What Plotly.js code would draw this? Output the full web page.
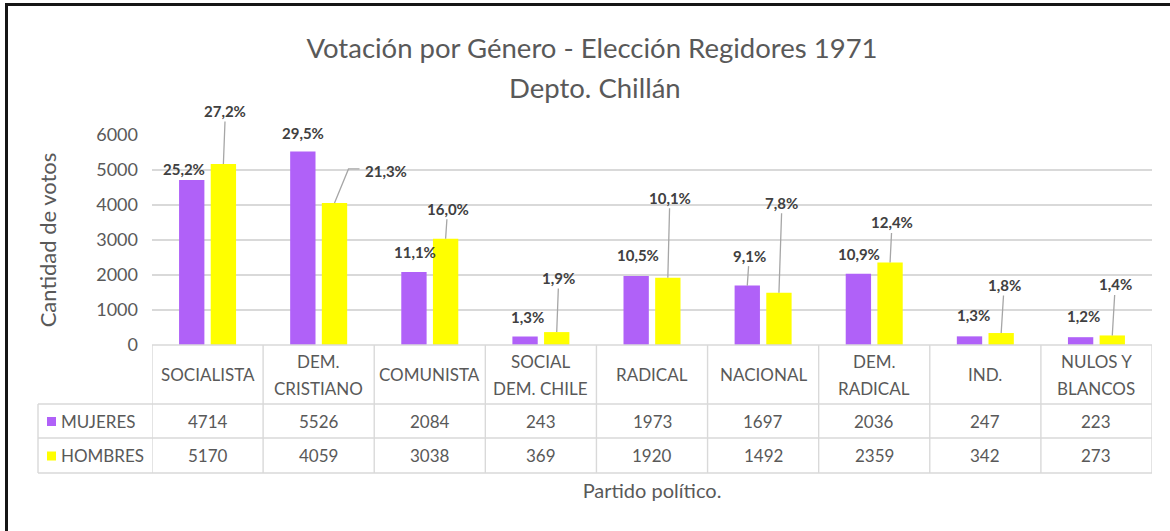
<!DOCTYPE html>
<html><head><meta charset="utf-8">
<script src="https://cdn.plot.ly/plotly-3.0.1.min.js"></script>
<style>
html,body{margin:0;padding:0;background:#fff;}
#chart{width:1170px;height:531px;}
#frame{position:absolute;left:5px;top:3px;width:1165px;height:528px;border-top:3px solid #161616;border-left:3px solid #161616;pointer-events:none;box-sizing:border-box;}
</style></head><body>
<div id="chart"></div><div id="frame"></div>
<script>
// ---- data ----
const categories = ['SOCIALISTA','DEM.<br>CRISTIANO','COMUNISTA','SOCIAL<br>DEM. CHILE','RADICAL','NACIONAL','DEM.<br>RADICAL','IND.','NULOS Y<br>BLANCOS'];
const seriesNames = ['MUJERES','HOMBRES'];
const mujeres = [4714,5526,2084,243,1973,1697,2036,247,223];
const hombres = [5170,4059,3038,369,1920,1492,2359,342,273];
const pctMujeres = [25.2,29.5,11.1,1.3,10.5,9.1,10.9,1.3,1.2];
const pctHombres = [27.2,21.3,16.0,1.9,10.1,7.8,12.4,1.8,1.4];
const yTicks = [0,1000,2000,3000,4000,5000,6000];
const titleLine1 = 'Votación por Género - Elección Regidores 1971';
const titleLine2 = 'Depto. Chillán';
const yTitle = 'Cantidad de votos';
const xTitle = 'Partido político.';

// ---- layout / style ----
const W = 1170, H = 531;
const M = {l:152, r:18, t:135, b:186};
const plotW = W - M.l - M.r, plotH = H - M.t - M.b;
const Y_MAX = 6000;
const pxPerCat = plotW / categories.length, pxPerUnit = plotH / Y_MAX;
const pxX = px => (px - M.l) / plotW;
const pxY = py => (H - M.b - py) / plotH;
const FONT = 'Lato, "Open Sans", sans-serif';
const GRAY = '#595959', LABEL = '#404040', LINE = '#d9d9d9', LEADER = '#a6a6a6';
const COLORS = ['#b061f8', '#ffff00'];
const BARGAP = 0.43, BARGROUPGAP = 0.2;
const slotOffset = (1 - BARGAP) / 4;

// label offsets in px (text centre relative to bar top); 1 = straight leader, 2 = bent leader
const offM = [[-8,-11,0],[0,-19,0],[1,-20,0],[2,-20,0],[2,-21,0],[2,-30,1],[1,-20,0],[4,-21,0],[3,-21,0]];
const offH = [[2,-53,1],[51,-32,2],[2,-30,1],[2,-54,1],[2,-80,1],[3,-90,1],[2,-40,1],[3,-48,1],[3,-51,1]];

const traces = [mujeres, hombres].map((vals, k) => ({
  type: 'bar', name: seriesNames[k], x: categories, y: vals,
  marker: {color: COLORS[k]}, hoverinfo: 'x+y+name', showlegend: false
}));

const fmt = v => v.toFixed(1).replace('.', ',') + '%';
const annotations = [];
const shapes = [];
function addLabels(vals, pcts, offs, sign) {
  vals.forEach((v, i) => {
    const o = offs[i];
    const xa = i + sign * slotOffset;
    annotations.push({
      xref: 'x', yref: 'y', x: xa, y: v,
      text: '<b>' + fmt(pcts[i]) + '</b>',
      showarrow: true, arrowhead: 0, arrowwidth: 1.3,
      arrowcolor: o[2] === 1 ? LEADER : 'rgba(0,0,0,0)',
      ax: o[0], ay: o[1], axref: 'pixel', ayref: 'pixel', standoff: 0,
      font: {family: FONT, size: 15, color: LABEL}
    });
    if (o[2] === 2) {
      const yb = v - o[1] / pxPerUnit * 1.0;
      const x1 = xa + 14 / pxPerCat, x2 = xa + (o[0] - 26) / pxPerCat;
      shapes.push({type:'path', xref:'x', yref:'y',
        path: 'M ' + xa + ',' + v + ' L ' + x1 + ',' + (v + (-o[1] + 2) / pxPerUnit) + ' L ' + x2 + ',' + (v + (-o[1] + 2) / pxPerUnit),
        line: {color: LEADER, width: 1.3}});
    }
  });
}
addLabels(mujeres, pctMujeres, offM, -1);
addLabels(hombres, pctHombres, offH, 1);

// data table
const T = {top:345, head:404, r1:438, r2:473, left:38};
const tFont = {family: FONT, size: 17, color: GRAY};
categories.forEach((c, i) => {
  const lines = c.split('<br>');
  const mid = (T.top + T.head) / 2;
  lines.forEach((ln, j) => {
    const yc = lines.length === 1 ? mid : mid + (j - 0.5) * 27;
    annotations.push({xref:'x', yref:'paper', x:i, y:pxY(yc), text:ln, showarrow:false,
      xanchor:'center', yanchor:'middle', font:tFont});
  });
  [mujeres[i], hombres[i]].forEach((v, k) => {
    const yc = k === 0 ? (T.head + T.r1) / 2 : (T.r1 + T.r2) / 2;
    annotations.push({xref:'x', yref:'paper', x:i, y:pxY(yc), text:String(v), showarrow:false,
      xanchor:'center', yanchor:'middle', font:tFont});
  });
});
seriesNames.forEach((n, k) => {
  const yc = k === 0 ? (T.head + T.r1) / 2 : (T.r1 + T.r2) / 2;
  annotations.push({xref:'paper', yref:'paper', x:pxX(59), y:pxY(yc), text:n, showarrow:false,
    xanchor:'left', yanchor:'middle', font:tFont});
  shapes.push({type:'rect', xref:'paper', yref:'paper', x0:pxX(47), x1:pxX(56), y0:pxY(yc+5), y1:pxY(yc-4),
    fillcolor:COLORS[k], line:{width:0}});
});
annotations.push({xref:'paper', yref:'paper', x:pxX(595), y:pxY(88), text:titleLine2, showarrow:false,
  xanchor:'center', yanchor:'middle', font:{family:FONT, size:27.5, color:GRAY}});

const L = {color: LINE, width: 1.4};
for (let i = 0; i <= categories.length; i++) {
  shapes.push({type:'line', xref:'x', yref:'paper', x0:i-0.5, x1:i-0.5, y0:pxY(T.top), y1:pxY(T.r2), line:L});
}
shapes.push({type:'line', xref:'paper', yref:'paper', x0:pxX(T.left), x1:pxX(T.left), y0:pxY(T.head), y1:pxY(T.r2), line:L});
shapes.push({type:'line', xref:'paper', yref:'paper', x0:0, x1:1, y0:pxY(T.top), y1:pxY(T.top), line:L});
[T.head, T.r1, T.r2].forEach(yy => shapes.push({type:'line', xref:'paper', yref:'paper',
  x0:pxX(T.left), x1:1, y0:pxY(yy), y1:pxY(yy), line:L}));

const layout = {
  width: W, height: H, margin: M,
  paper_bgcolor: '#fff', plot_bgcolor: '#fff',
  font: {family: FONT, color: GRAY},
  title: {text: titleLine1, x: 592/W, xanchor: 'center', xref: 'container', y: 1 - 48/H, yanchor: 'middle', yref: 'container',
    font: {family: FONT, size: 27.5, color: GRAY}},
  barmode: 'group', bargap: BARGAP, bargroupgap: BARGROUPGAP,
  xaxis: {type: 'category', range: [-0.5, categories.length - 0.5], showticklabels: false, showgrid: false,
    zeroline: false, showline: false, ticks: '',
    title: {text: xTitle, standoff: 138, font: {family: FONT, size: 20, color: GRAY}}},
  yaxis: {range: [0, Y_MAX], tickvals: yTicks, ticktext: yTicks.map(String), showgrid: true, gridcolor: LINE, gridwidth: 1.4,
    zeroline: false, showline: false, ticks: '', ticklabelstandoff: 13,
    tickfont: {family: FONT, size: 18, color: GRAY},
    title: {text: yTitle, standoff: 33, font: {family: FONT, size: 22, color: GRAY}}},
  annotations: annotations, shapes: shapes, showlegend: false
};
Plotly.newPlot('chart', traces, layout, {displayModeBar: false, staticPlot: true});
</script></body></html>
